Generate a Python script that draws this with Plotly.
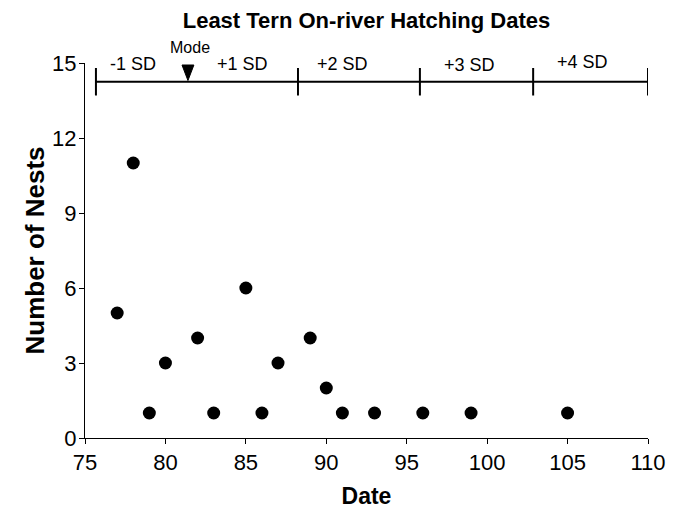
import plotly.graph_objects as go

# Data
dates = [77, 78, 79, 80, 82, 83, 85, 86, 87, 89, 90, 91, 93, 96, 99, 105]
nests = [5, 11, 1, 3, 4, 1, 6, 1, 3, 4, 2, 1, 1, 1, 1, 1]

x_ticks = [75, 80, 85, 90, 95, 100, 105, 110]
y_ticks = [0, 3, 6, 9, 12, 15]

# SD bracket annotation values
bracket_x = [75.68, 88.24, 95.82, 102.86, 110.0]
bracket_y = 14.25
bracket_tick_top = 14.8
bracket_tick_bot = 13.7
sd_labels = ["-1 SD", "+1 SD", "+2 SD", "+3 SD", "+4 SD"]
sd_label_x = [78.0, 84.8, 91.0, 98.9, 105.9]
sd_label_shift = [-1, -1, -1, -2, 1.5]   # pixels relative to top of axis
mode_x = 81.4
mode_label = "Mode"

FONT = "Liberation Sans, Arial, sans-serif"

fig = go.Figure()
fig.add_trace(go.Scatter(
    x=dates, y=nests, mode="markers",
    marker=dict(symbol="circle", size=13, color="black"),
    cliponaxis=False, showlegend=False,
))

shapes = []
shapes.append(dict(type="line", xref="x", yref="y",
                   x0=bracket_x[0], x1=bracket_x[-1], y0=bracket_y, y1=bracket_y,
                   line=dict(color="black", width=2)))
for bx in bracket_x:
    shapes.append(dict(type="line", xref="x", yref="y",
                       x0=bx, x1=bx, y0=bracket_tick_bot, y1=bracket_tick_top,
                       line=dict(color="black", width=2)))
shapes.append(dict(type="path", xref="x", yref="y",
                   path=f"M {mode_x-0.37},14.92 L {mode_x+0.37},14.92 L {mode_x},14.3 Z",
                   fillcolor="black", line=dict(color="black", width=1)))

annotations = []
for lab, lx, sh in zip(sd_labels, sd_label_x, sd_label_shift):
    annotations.append(dict(x=lx, y=15, xref="x", yref="y", yshift=sh, text=lab,
                            showarrow=False,
                            font=dict(family=FONT, size=18, color="black"),
                            xanchor="center", yanchor="middle"))
annotations.append(dict(x=mode_x + 0.15, y=15, xref="x", yref="y", yshift=15.5,
                        text=mode_label, showarrow=False,
                        font=dict(family=FONT, size=16, color="black"),
                        xanchor="center", yanchor="middle"))

fig.update_layout(
    width=673, height=509, autosize=False,
    margin=dict(l=85, r=25, t=63, b=71),
    paper_bgcolor="white", plot_bgcolor="white",
    font=dict(family=FONT, color="black"),
    title=dict(text="<b>Least Tern On-river Hatching Dates</b>",
               font=dict(family=FONT, size=22, color="black"),
               x=0.5, xref="paper", xanchor="center",
               y=1 - 20 / 509, yref="container", yanchor="middle"),
    shapes=shapes,
    annotations=annotations,
    xaxis=dict(range=[75, 110], tickvals=x_ticks, ticks="outside", ticklen=5,
               tickcolor="black", showline=True, linecolor="black", linewidth=1,
               showgrid=False, zeroline=False, automargin=False,
               tickfont=dict(family=FONT, size=22, color="black"),
               title=dict(text="<b>Date</b>", font=dict(family=FONT, size=23, color="black"),
                          standoff=15)),
    yaxis=dict(range=[0, 15], tickvals=y_ticks, ticks="outside", ticklen=5,
               tickcolor="black", showline=True, linecolor="black", linewidth=1,
               showgrid=False, zeroline=False, automargin=False, ticklabelstandoff=-2,
               tickfont=dict(family=FONT, size=22, color="black"),
               title=dict(text="<b>Number of Nests</b>", font=dict(family=FONT, size=26, color="black"),
                          standoff=0)),
)

fig.write_html("out.html", config={"displayModeBar": False},
               post_script="document.body.style.margin='0';")
